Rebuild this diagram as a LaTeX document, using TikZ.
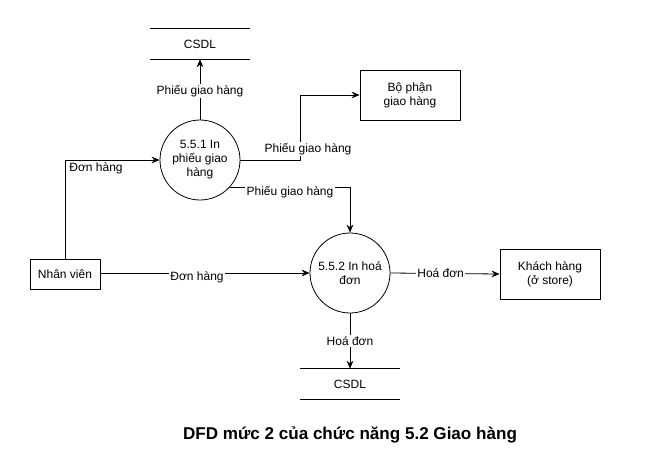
\documentclass[tikz,border=0pt]{standalone}
\usepackage{fontspec}
\setmainfont{Liberation Sans}
\usetikzlibrary{arrows.meta,positioning}

\tikzset{
    txt/.style={font=\fontsize{9}{10.5}\selectfont,align=center},
    proc/.style={txt,draw,circle,minimum size=60pt,inner sep=0pt,line width=0.6pt},
    ent/.style={txt,draw,rectangle,inner sep=0pt,line width=0.6pt},
    store/.style={txt,rectangle,minimum width=75pt,minimum height=22.5pt,inner sep=0pt},
    flow/.style={-{Stealth[length=6pt,width=5pt]},line width=0.6pt},
    lbl/.style={txt,fill=white,inner sep=1pt}
}

\begin{document}
\begin{tikzpicture}[x=0.75pt,y=-0.75pt]
        \useasboundingbox (0,0) rectangle (664,472);

        \node[store] (dbA) at (200,44) {CSDL};
        \node[store] (dbB) at (350,384) {CSDL};
        \draw[line width=0.6pt] (dbA.north west) -- (dbA.north east);
        \draw[line width=0.6pt] (dbA.south west) -- (dbA.south east);
        \draw[line width=0.6pt] (dbB.north west) -- (dbB.north east);
        \draw[line width=0.6pt] (dbB.south west) -- (dbB.south east);

        \node[proc] (inPhieu) at (200,160) {5.5.1 In\\phiếu giao\\hàng};
        \node[proc] (inHoaDon) at (350,273) {5.5.2 In hoá\\đơn};

        \node[ent,minimum width=52.5pt,minimum height=22.5pt] (nhanVien) at (65,274) {Nhân viên};
        \node[ent,minimum width=75pt,minimum height=37.5pt] (boPhan) at (410,95) {Bộ phận\\giao hàng};
        \node[ent,minimum width=75pt,minimum height=37.5pt] (khachHang) at (550,274) {Khách hàng\\(ở store)};

        \draw[flow] (inPhieu.north) -- (dbA.south) node[lbl,pos=0.47] {Phiếu giao hàng};
        \draw[flow] (inPhieu.east) -- ++(60,0) coordinate (gocA) |- (boPhan.west);
        \node[lbl] (lblBoPhan) at (308,149) {Phiếu giao hàng};
        \draw[flow] (inPhieu.-43) -| (inHoaDon.north);
        \node[lbl] (lblHoaDon) at (290,192) {Phiếu giao hàng};

        \draw[flow] (nhanVien.north) |- (inPhieu.west);
        \node[txt] (lblDonA) at (96,168) {Đơn hàng};
        \draw[flow] (nhanVien.east) -- (inHoaDon.west -| nhanVien.east) -- (inHoaDon.west);
        \node[lbl] (lblDonB) at (197,277) {Đơn hàng};

        \draw[flow] (inHoaDon.east) -- (khachHang.west) node[lbl,pos=0.46] {Hoá đơn};
        \draw[flow] (inHoaDon.south) -- (dbB.north) node[lbl,midway] {Hoá đơn};

        \node[font=\fontsize{12.8}{15}\selectfont\bfseries] (title) at (350,435) {DFD mức 2 của chức năng 5.2 Giao hàng};
    \end{tikzpicture}
\end{document}
